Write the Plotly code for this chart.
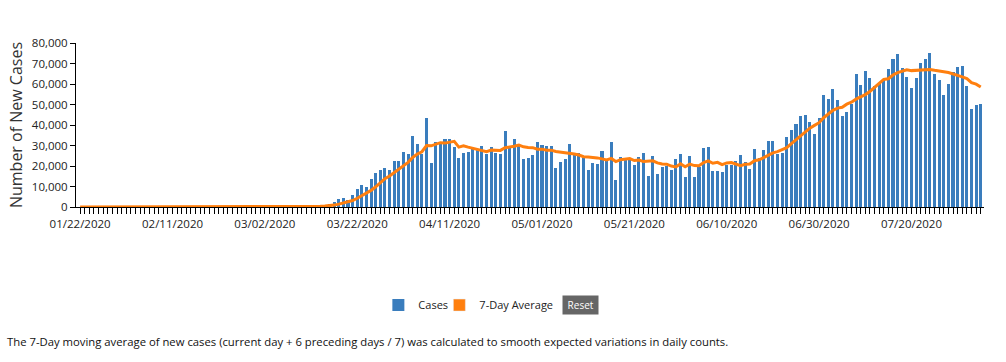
import pandas as pd
import plotly.graph_objects as go

start_date = "2020-01-22"

cases_jan_feb = [1, 0, 0, 1, 1, 0, 0, 0, 0, 1, 0, 1, 1, 0, 0, 0, 1, 0, 0, 0,
                 0, 0, 0, 0, 1, 0, 0, 0, 0, 0, 0, 0, 0, 0, 1, 0, 3, 2, 5]
cases_early_mar = [10, 15, 20, 30, 45, 60, 80, 110, 150, 230, 300, 400, 500, 700, 900, 1300]
cases_main = [
    2400, 3700, 4400, 3400, 5900, 8800, 10700, 9800, 13700, 16700,
    18000, 19000, 18000, 22400, 22400, 26800, 25900, 34600, 30700, 25900,
    43400, 21600, 31700, 31700, 33200, 33200, 29300, 23900, 26300, 26800,
    28300, 27800, 29800, 25900, 29300, 26300, 25900, 37100, 29800, 33200,
    29800, 23400, 23900, 25400, 31700, 30200, 29800, 29800, 19000, 22000,
    23400, 30700, 26300, 26300, 23900, 18000, 21500, 21000, 27300, 22400,
    31700, 13200, 24400, 22900, 23500, 20500, 24400, 26300, 15100, 24900,
    16100, 19500, 20000, 18000, 23400, 25900, 14600, 24900, 14600, 19500,
    28800, 29300, 17600, 17600, 17100, 20600, 20700, 22400, 25400, 22000,
    18500, 28300, 24000, 27800, 32200, 32200, 25900, 26300, 34100, 37600,
    40500, 44400, 44900, 41500, 35600, 43400, 54600, 52700, 57600, 52200,
    44400, 46300, 50200, 64900, 59500, 66300, 62900, 59000, 60500, 62400,
    67300, 72200, 74600, 67800, 63400, 58000, 62900, 70200, 72200, 75100,
    64900, 62000, 54600, 60000, 65900, 68300, 68800, 59000, 47800, 49800,
    50200,
]
cases = cases_jan_feb + cases_early_mar + cases_main
dates = pd.date_range(start_date, periods=len(cases), freq="D")

# 7-day moving average as defined in the footnote (current day + 6 preceding days / 7)
avg7 = pd.Series(cases, dtype=float).rolling(7, min_periods=1).mean()

BLUE = "#3a7dbd"
ORANGE = "#ff7f0e"
FONT = "Open Sans, Noto Sans, DejaVu Sans, sans-serif"
DAY_MS = 86400000

fig = go.Figure()
fig.add_trace(go.Bar(
    x=dates, y=cases, name="Cases", marker=dict(color=BLUE, line=dict(width=0)),
    width=0.66 * DAY_MS, legendwidth=16,
))
fig.add_trace(go.Scatter(
    x=dates, y=avg7, name="7-Day Average", mode="lines",
    line=dict(color=ORANGE, width=3), showlegend=False,
))
# legend swatch for the average (square, like the original legend)
fig.add_trace(go.Bar(
    x=[None], y=[None], name="7-Day Average", marker=dict(color=ORANGE),
    legendwidth=80,
))

fig.update_layout(
    width=1006, height=362,
    margin=dict(l=76, r=22, t=43, b=155),
    paper_bgcolor="white", plot_bgcolor="white",
    font=dict(family=FONT, size=12, color="#222"),
    bargap=0,
    showlegend=True,
    legend=dict(orientation="h", x=0.333, y=-0.598, xanchor="left", yanchor="middle",
                font=dict(size=11, color="#222"), itemwidth=30,
                traceorder="normal", bgcolor="rgba(0,0,0,0)"),
    xaxis=dict(
        type="date",
        range=["2020-01-21 02:30", "2020-08-04 17:00"],
        tick0="2020-01-22", dtick=20 * DAY_MS, tickformat="%m/%d/%Y",
        ticks="outside", ticklen=6, tickcolor="#000", tickwidth=1,
        minor=dict(dtick=DAY_MS, tick0="2020-01-22", ticks="outside", ticklen=6,
                   tickcolor="#000", tickwidth=1, showgrid=False),
        showline=True, linecolor="#000", linewidth=1,
        showgrid=False, zeroline=False,
        tickfont=dict(size=11.5, color="#222"),
    ),
    yaxis=dict(
        range=[0, 80000], dtick=10000, tickformat=",",
        ticks="outside", ticklen=5, tickcolor="#000",
        showline=True, linecolor="#000", linewidth=1,
        showgrid=False, zeroline=False,
        tickfont=dict(size=11.5, color="#222"),
    ),
    annotations=[
        dict(text="Number of New Cases", xref="paper", yref="paper",
             x=-0.066, y=0.5, xanchor="center", yanchor="middle",
             textangle=-90, showarrow=False,
             font=dict(size=16, color="#333")),
        dict(text="&nbsp;Reset&nbsp;", xref="paper", yref="paper", x=0.556, y=-0.598,
             xanchor="center", yanchor="middle",
             showarrow=False, bgcolor="#666", borderpad=2,
             font=dict(size=10, color="white")),
        dict(text="The 7-Day moving average of new cases (current day + 6 preceding days / 7) "
                  "was calculated to smooth expected variations in daily counts.",
             xref="paper", yref="paper", x=-0.078, y=-0.823, xanchor="left",
             yanchor="middle", showarrow=False, font=dict(size=11.3, color="#111")),
    ],
)

fig.write_html("out.html", config={"displayModeBar": False},
               post_script="document.body.style.margin='0';")
